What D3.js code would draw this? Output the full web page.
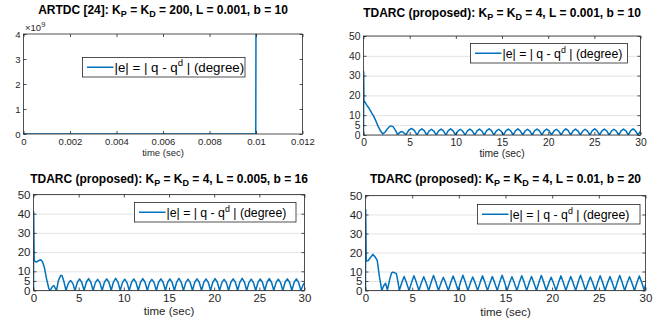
<!DOCTYPE html>
<html>
<head>
<meta charset="utf-8">
<script src="https://cdn.jsdelivr.net/npm/d3@7"></script>
<style>
  body { margin: 0; background: #fff; }
  text { font-family: "Liberation Sans", Arial, sans-serif; fill: #262626; }
  .grid line { stroke: #e3e3e3; stroke-width: 1; }
  .grid path { display: none; }
  .ax path { display: none; }
  .ax line { stroke: #262626; stroke-width: 0.8; }
</style>
</head>
<body>
<svg width="670" height="324"></svg>
<script>
// ---- data ----

// ARTDC [24]
var timeA = [0, 0.001, 0.002, 0.003, 0.004, 0.005, 0.006, 0.007, 0.008, 0.009, 0.00999, 0.01];
var errA  = [0, 12, 15, 18, 20, 25, 30, 40, 60, 120, 500, 4.6e9];

// TDARC L = 0.001, b = 10
var timeB = [0, 0.02, 0.05, 0.3, 0.6, 0.9, 1.1, 1.35, 1.6, 1.85, 2.1, 2.35, 2.6, 2.8, 3.0, 3.2, 3.45, 3.7, 3.95, 4.15, 4.4, 4.6, 4.9, 5.2, 5.5, 5.8,
  6.06, 6.32, 6.58, 6.84, 7.10, 7.36, 7.62, 7.88, 8.14, 8.40, 8.66, 8.92, 9.18, 9.44, 9.70, 9.96,
  10.22, 10.48, 10.74, 11.00, 11.26, 11.52, 11.78, 12.04, 12.30, 12.56, 12.82, 13.08, 13.34, 13.60, 13.86, 14.12,
  14.38, 14.64, 14.90, 15.16, 15.42, 15.68, 15.94, 16.20, 16.46, 16.72, 16.98, 17.24, 17.50, 17.76, 18.02, 18.28,
  18.54, 18.80, 19.06, 19.32, 19.58, 19.84, 20.10, 20.36, 20.62, 20.88, 21.14, 21.40, 21.66, 21.92, 22.18, 22.44,
  22.70, 22.96, 23.22, 23.48, 23.74, 24.00, 24.26, 24.52, 24.78, 25.04, 25.30, 25.56, 25.82, 26.08, 26.34, 26.60,
  26.86, 27.12, 27.38, 27.64, 27.90, 28.16, 28.42, 28.68, 28.94, 29.20, 29.46, 29.72, 30.0];
var errB  = [0, 32, 17.5, 15.5, 13.5, 11, 9.5, 7, 4.2, 2, 0.5, 1.5, 3.2, 4.2, 4.6, 4.2, 2.5, 0.2, 1.4, 1.8, 1.0, 0.1, 2.4, 3.3, 2.3, 0,
  2.2, 3.1, 2.2, 0, 2.0, 2.9, 2.0, 0, 2.1, 3.0, 2.1, 0, 2.2, 3.1, 2.1, 0,
  2.0, 2.9, 2.0, 0, 2.1, 3.0, 2.1, 0, 2.1, 3.0, 2.0, 0, 2.2, 3.1, 2.2, 0,
  2.0, 2.9, 2.0, 0, 2.1, 3.0, 2.1, 0, 2.1, 3.1, 2.1, 0, 2.0, 2.9, 2.0, 0,
  2.2, 3.0, 2.1, 0, 2.1, 3.0, 2.1, 0, 2.0, 2.9, 2.0, 0, 2.1, 3.1, 2.2, 0,
  2.1, 3.0, 2.1, 0, 2.0, 2.9, 2.0, 0, 2.2, 3.1, 2.1, 0, 2.1, 3.0, 2.1, 0,
  2.0, 2.9, 2.0, 0, 2.1, 3.0, 2.1, 0, 2.2, 3.1, 2.1, 0, 1.9];

// TDARC L = 0.005, b = 16
var timeC = [0, 0.02, 0.08, 0.3, 0.55, 0.8, 1.0, 1.2, 1.45, 1.7, 1.85, 2.05, 2.25, 2.45, 2.55, 2.75, 3.0, 3.15, 3.35, 3.6, 3.85, 4.1, 4.35, 4.6,
  4.85, 5.1, 5.35, 5.6, 5.85, 6.1, 6.35, 6.6, 6.85, 7.1, 7.35, 7.6, 7.85, 8.1, 8.35, 8.6, 8.85, 9.1, 9.35, 9.6,
  9.85, 10.1, 10.35, 10.6, 10.85, 11.1, 11.35, 11.6, 11.85, 12.1, 12.35, 12.6, 12.85, 13.1, 13.35, 13.6, 13.85, 14.1, 14.35, 14.6,
  14.85, 15.1, 15.35, 15.6, 15.85, 16.1, 16.35, 16.6, 16.85, 17.1, 17.35, 17.6, 17.85, 18.1, 18.35, 18.6, 18.85, 19.1, 19.35, 19.6,
  19.85, 20.1, 20.35, 20.6, 20.85, 21.1, 21.35, 21.6, 21.85, 22.1, 22.35, 22.6, 22.85, 23.1, 23.35, 23.6, 23.85, 24.1, 24.35, 24.6,
  24.85, 25.1, 25.35, 25.6, 25.85, 26.1, 26.35, 26.6, 26.85, 27.1, 27.35, 27.6, 27.85, 28.1, 28.35, 28.6, 28.85, 29.1, 29.35, 29.6,
  29.85, 30.0];
var errC  = [0, 41, 15.5, 14.8, 15.5, 16, 15, 12, 6, 1, 0, 1.8, 2.6, 0.8, 0, 5, 7.8, 7.8, 5, 0, 3.7, 5.2, 3.7, 0,
  4.2, 6.0, 4.2, 0, 4.3, 6.2, 4.3, 0, 4.1, 5.8, 4.1, 0, 4.3, 6.1, 4.3, 0, 4.4, 6.3, 4.4, 0,
  4.1, 5.9, 4.1, 0, 4.2, 6.0, 4.2, 0, 4.3, 6.2, 4.3, 0, 4.1, 5.8, 4.1, 0, 4.3, 6.1, 4.3, 0,
  4.2, 6.0, 4.2, 0, 4.4, 6.3, 4.4, 0, 4.1, 5.9, 4.1, 0, 4.3, 6.1, 4.3, 0, 4.2, 6.0, 4.2, 0,
  4.3, 6.2, 4.3, 0, 4.1, 5.8, 4.1, 0, 4.3, 6.1, 4.3, 0, 4.4, 6.3, 4.4, 0, 4.1, 5.9, 4.1, 0,
  4.2, 6.0, 4.2, 0, 4.3, 6.2, 4.3, 0, 4.1, 5.9, 4.1, 0, 4.3, 6.1, 4.3, 0, 4.2, 6.0, 4.2, 0,
  3.0, 4.0];

// TDARC L = 0.01, b = 20
var timeD = [0, 0.02, 0.08, 0.3, 0.55, 0.8, 1.05, 1.25, 1.5, 1.75, 1.95, 2.15, 2.35, 2.6, 2.8, 2.95, 3.15, 3.3, 3.48, 3.62,
  3.92, 4.14, 4.37, 4.67, 4.97, 5.19, 5.42, 5.72, 6.02, 6.24, 6.47, 6.77, 7.07, 7.29, 7.52, 7.82, 8.12, 8.34, 8.57, 8.87,
  9.17, 9.39, 9.62, 9.92, 10.22, 10.44, 10.67, 10.97, 11.27, 11.49, 11.72, 12.02, 12.32, 12.54, 12.77, 13.07, 13.37, 13.59, 13.82, 14.12,
  14.42, 14.64, 14.87, 15.17, 15.47, 15.69, 15.92, 16.22, 16.52, 16.74, 16.97, 17.27, 17.57, 17.79, 18.02, 18.32, 18.62, 18.84, 19.07, 19.37,
  19.67, 19.89, 20.12, 20.42, 20.72, 20.94, 21.17, 21.47, 21.77, 21.99, 22.22, 22.52, 22.82, 23.04, 23.27, 23.57, 23.87, 24.09, 24.32, 24.62,
  24.92, 25.14, 25.37, 25.67, 25.97, 26.19, 26.42, 26.72, 27.02, 27.24, 27.47, 27.77, 28.07, 28.29, 28.52, 28.82, 29.12, 29.34, 29.57, 29.87,
  30.0];
var errD  = [0, 42.5, 15.5, 15.8, 17.5, 19, 17.5, 16, 7, 0, 2.5, 3.8, 0.3, 6, 9.3, 9.7, 9.2, 9.0, 4.5, 0,
  4.6, 7.4, 4.4, 0, 4.8, 7.8, 4.7, 0, 4.5, 7.2, 4.3, 0, 4.9, 7.9, 4.7, 0, 4.3, 7.0, 4.2, 0,
  4.7, 7.6, 4.6, 0, 5.0, 8.0, 4.8, 0, 4.4, 7.1, 4.3, 0, 4.8, 7.7, 4.6, 0, 4.5, 7.3, 4.4, 0,
  5.0, 8.0, 4.8, 0, 4.5, 7.2, 4.3, 0, 4.8, 7.8, 4.7, 0, 4.6, 7.4, 4.4, 0, 4.9, 7.9, 4.7, 0,
  4.3, 7.0, 4.2, 0, 4.8, 7.7, 4.6, 0, 4.5, 7.3, 4.4, 0, 5.0, 8.0, 4.8, 0, 4.4, 7.1, 4.3, 0,
  4.8, 7.8, 4.7, 0, 4.5, 7.3, 4.4, 0, 4.9, 7.9, 4.7, 0, 4.5, 7.2, 4.3, 0, 4.7, 7.6, 4.6, 0,
  3.0];

// ticks
var xTicksA = [0, 0.002, 0.004, 0.006, 0.008, 0.01, 0.012];
var yTicksA = [0, 1e9, 2e9, 3e9, 4e9];
var xTicks  = [0, 5, 10, 15, 20, 25, 30];
var yTicks  = [0, 5, 10, 20, 30, 40, 50];

var lineColor = "#0072BD";
var svg = d3.select("svg");

// ---- panels: box [left, top, right, bottom], legend [left, top, w, h] ----
drawPanel({
  box: [23.5, 34, 302.5, 134], xDomain: [0, 0.012], yDomain: [0, 4e9],
  xTicks: xTicksA, yTicks: yTicksA, grid: false, fontSize: 9.5, pad: 4,
  xFormat: function(d) { return d === 0 ? "0" : d3.format("")(+d.toFixed(3)); },
  yFormat: function(d) { return d / 1e9; },
  title: ["ARTDC [24]: K", "P", " = K", "D", " = 200, L = 0.001, b = 10"], titleY: 13.5,
  legend: [82.5, 57.5, 162.5, 19.5], legendSize: 13.3,
  t: timeA, e: errA, xlabelY: 155.5, exponent: true
});
drawPanel({
  box: [363.5, 36, 640.5, 135], xDomain: [0, 30], yDomain: [0, 50],
  xTicks: xTicks, yTicks: yTicks, grid: true, fontSize: 10.3, pad: 4,
  title: ["TDARC (proposed): K", "P", " = K", "D", " = 4, L = 0.001, b = 10"], titleY: 16.5,
  legend: [470.5, 43.5, 157, 19.5], legendSize: 12.3,
  t: timeB, e: errB, xlabelY: 157
});
drawPanel({
  box: [33.5, 194.5, 304.5, 290.5], xDomain: [0, 30], yDomain: [0, 50],
  xTicks: xTicks, yTicks: yTicks, grid: true, fontSize: 11.5, pad: 3.5,
  title: ["TDARC (proposed): K", "P", " = K", "D", " = 4, L = 0.005, b = 16"], titleY: 182.5,
  legend: [134.5, 202.5, 161.5, 19.5], legendSize: 12.3,
  t: timeC, e: errC, xlabelY: 315
});
drawPanel({
  box: [365.5, 195.5, 645.5, 290.5], xDomain: [0, 30], yDomain: [0, 50],
  xTicks: xTicks, yTicks: yTicks, grid: true, fontSize: 11.5, pad: 3.5,
  title: ["TDARC (proposed): K", "P", " = K", "D", " = 4, L = 0.01, b = 20"], titleY: 182.5,
  legend: [477.5, 204.5, 162.5, 19.5], legendSize: 12.3,
  t: timeD, e: errD, xlabelY: 315.5
});

function drawPanel(p) {
  var L = p.box[0], T = p.box[1], R = p.box[2], B = p.box[3];
  var w = R - L, h = B - T;
  var x = d3.scaleLinear().domain(p.xDomain).range([0, w]);
  var y = d3.scaleLinear().domain(p.yDomain).range([h, 0]);
  var g = svg.append("g").attr("transform", "translate(" + L + "," + T + ")");
  var id = "clip" + Math.round(L) + "_" + Math.round(T);

  g.append("clipPath").attr("id", id)
    .append("rect").attr("width", w).attr("height", h);

  if (p.grid) {
    g.append("g").attr("class", "grid")
      .call(d3.axisLeft(y).tickValues(p.yTicks).tickSize(-w).tickFormat(""));
  }

  // the series
  var pts = p.t.map(function(t, i) { return [t, p.e[i]]; });
  var line = d3.line()
    .x(function(d) { return x(d[0]); })
    .y(function(d) { return y(d[1]); });
  g.append("path")
    .datum(pts)
    .attr("clip-path", "url(#" + id + ")")
    .attr("fill", "none")
    .attr("stroke", lineColor)
    .attr("stroke-width", 1.5)
    .attr("stroke-linejoin", "round")
    .attr("d", line);

  // box + inward ticks on all four sides
  var fmtX = p.xFormat || function(d) { return d; };
  var fmtY = p.yFormat || function(d) { return d; };
  g.append("g").attr("class", "ax").attr("transform", "translate(0," + h + ")")
    .call(d3.axisBottom(x).tickValues(p.xTicks).tickSize(-3).tickPadding(p.pad).tickFormat(fmtX));
  g.append("g").attr("class", "ax")
    .call(d3.axisTop(x).tickValues(p.xTicks).tickSize(-3).tickFormat(""));
  g.append("g").attr("class", "ax")
    .call(d3.axisLeft(y).tickValues(p.yTicks).tickSize(-3).tickPadding(3).tickFormat(fmtY));
  g.append("g").attr("class", "ax").attr("transform", "translate(" + w + ",0)")
    .call(d3.axisRight(y).tickValues(p.yTicks).tickSize(-3).tickFormat(""));
  g.selectAll(".ax text").attr("font-size", p.fontSize).attr("fill", "#262626")
    .attr("font-family", "Liberation Sans, Arial, sans-serif");

  g.append("rect")
    .attr("width", w).attr("height", h)
    .attr("fill", "none").attr("stroke", "#262626").attr("stroke-width", 0.8);

  if (p.exponent) {
    var ex = g.append("text").attr("x", 1.5).attr("y", -3).attr("font-size", 9.5);
    ex.append("tspan").text("\u00d710");
    ex.append("tspan").attr("dy", -4).attr("font-size", 7.5).text("9");
  }

  // x label
  svg.append("text")
    .attr("x", L + w / 2).attr("y", p.xlabelY)
    .attr("text-anchor", "middle").attr("font-size", p.fontSize)
    .text("time (sec)");

  // title with subscripts
  var tt = svg.append("text")
    .attr("x", L + w / 2).attr("y", p.titleY)
    .attr("text-anchor", "middle")
    .attr("font-size", 12).attr("font-weight", "bold")
    .style("fill", "#000");
  p.title.forEach(function(s, i) {
    var sub = i % 2 === 1;
    tt.append("tspan")
      .attr("dy", sub ? 3.5 : (i > 0 ? -3.5 : 0))
      .attr("font-size", sub ? 9 : 12)
      .text(s);
  });

  // legend
  var lg = svg.append("g").attr("transform", "translate(" + p.legend[0] + "," + p.legend[1] + ")");
  var lh = p.legend[3];
  lg.append("rect")
    .attr("width", p.legend[2]).attr("height", lh)
    .attr("fill", "#fff").attr("stroke", "#262626").attr("stroke-width", 0.8);
  lg.append("line")
    .attr("x1", 4.5).attr("x2", 31).attr("y1", lh / 2).attr("y2", lh / 2)
    .attr("stroke", lineColor).attr("stroke-width", 1.5);
  var fs = p.legendSize;
  var lt = lg.append("text")
    .attr("x", 32).attr("y", lh / 2 + fs * 0.36)
    .attr("font-size", fs).style("fill", "#000");
  lt.append("tspan").text("|e| = | q - q");
  lt.append("tspan").attr("dy", -fs * 0.42).attr("font-size", fs * 0.72).text("d");
  lt.append("tspan").attr("dy", fs * 0.42).text(" | (degree)");
}
</script>
</body>
</html>
